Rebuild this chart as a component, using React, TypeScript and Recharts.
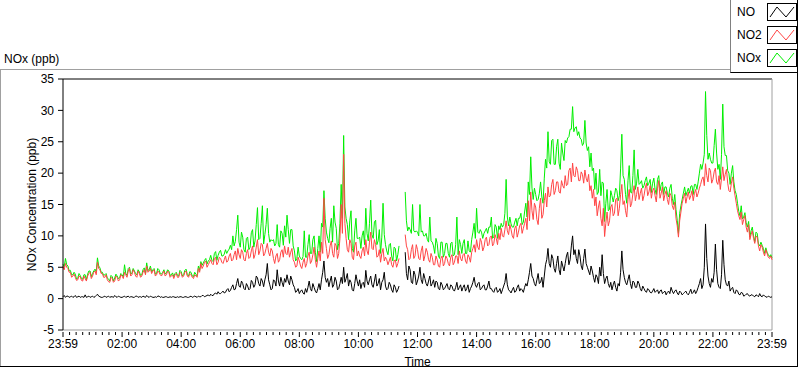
import { Line, LineChart, ReferenceLine, XAxis, YAxis } from "recharts";

// Samples: one set on the 5-minute marks from 23:59,
// one set half way between them (2.5 minutes later).
const STEP_MIN = 5;

const no = [
  0.3, 0.2, 0.4, 0.3, 0.2, 0.5, 0.3, 0.2, 0.3, 0.6, 0.3, 0.2,
  0.4, 0.3, 0.7, 0.3, 0.2, 0.4, 0.3, 0.2, 0.3, 0.5, 0.2, 0.3,
  0.2, 0.4, 0.3, 0.2, 0.3, 0.2, 0.4, 0.3, 0.2, 0.3, 0.5, 0.2,
  0.3, 0.2, 0.2, 0.4, 0.3, 0.2, 0.3, 0.2, 0.2, 0.3, 0.2, 0.2,
  0.3, 0.2, 0.3, 0.2, 0.4, 0.3, 0.3, 0.4, 0.3, 0.5, 0.4, 0.6,
  0.7, 0.5, 0.9, 1.1, 0.8, 1.2, 1.0, 1.6, 1.3, 2.2, 1.5, 3.2,
  1.8, 2.4, 1.4, 2.0, 1.6, 2.6, 2.2, 3.3, 2.0, 2.8, 3.0, 5.6,
  2.2, 1.6, 2.8, 4.6, 2.0, 2.6, 3.2, 3.8, 2.2, 3.0, 1.8, 1.2,
  0.8, 1.4, 0.7, 1.0, 2.8, 1.2, 1.8, 0.9, 2.4, 3.0, 6.0, 2.6,
  1.9, 3.6, 2.2, 2.8, 1.6, 3.4, 5.0, 3.2, 2.0, 2.6, 1.2, 3.8,
  2.0, 1.6, 2.6, 4.5, 2.2, 3.6, 1.8, 3.9, 2.4, 1.4, 3.0, 2.0,
  1.6, 2.2, 1.0, 1.8, 1.4, null, null, 7.4, 3.0, 4.6, 2.4, 3.8,
  2.8, 5.0, 2.4, 3.2, 2.0, 3.6, 2.4, 1.8, 2.6, 1.4, 2.2, 1.6,
  2.4, 1.4, 2.0, 1.2, 2.6, 1.8, 1.2, 2.2, 1.6, 1.0, 2.0, 3.4,
  1.8, 2.6, 1.6, 2.2, 1.4, 2.8, 1.6, 1.0, 1.8, 1.2, 0.8, 2.0,
  4.0, 1.4, 0.9, 1.8, 1.2, 2.2, 1.6, 1.0, 2.4, 3.0, 5.6, 3.2,
  2.0, 4.0, 2.6, 1.8, 5.4, 8.0, 5.0, 6.4, 4.2, 6.8, 3.8, 5.2,
  5.6, 7.4, 6.2, 10.0, 7.8, 5.6, 6.8, 4.6, 7.9, 5.0, 3.8, 4.4,
  2.6, 3.4, 5.0, 7.0, 2.4, 3.6, 1.8, 1.4, 2.8, 1.2, 2.0, 7.6,
  3.4, 2.2, 3.8, 1.6, 2.6, 1.8, 2.4, 1.2, 1.6, 1.0, 1.4, 0.9,
  1.6, 1.2, 0.8, 1.4, 1.0, 0.6, 1.2, 1.8, 0.8, 1.4, 0.6, 1.0,
  0.8, 1.2, 0.6, 1.5, 1.0, 0.8, 1.8, 3.2, 2.2, 11.9, 3.6, 1.8,
  2.6, 8.7, 2.4, 1.6, 9.3, 3.0, 2.0, 1.2, 1.8, 0.8, 1.2, 0.6,
  0.9, 0.5, 0.8, 0.4, 0.6, 0.3, 0.5, 0.8, 0.3, 0.4, 0.2, 0.3,
  0.3,
];

const noMid = [
  0.5, 0.4, 0.2, 0.4, 0.3, 0.2, 0.4, 0.3, 0.2, 0.2, 0.4, 0.3,
  0.2, 0.5, 0.4, 0.2, 0.3, 0.2, 0.4, 0.3, 0.2, 0.3, 0.4, 0.2,
  0.3, 0.2, 0.4, 0.3, 0.2, 0.4, 0.2, 0.3, 0.4, 0.2, 0.3, 0.4,
  0.2, 0.3, 0.4, 0.2, 0.2, 0.3, 0.2, 0.3, 0.3, 0.2, 0.3, 0.3,
  0.2, 0.3, 0.2, 0.3, 0.2, 0.4, 0.2, 0.3, 0.5, 0.3, 0.5, 0.4,
  0.5, 0.8, 0.7, 0.8, 1.0, 0.9, 1.4, 1.1, 1.8, 1.4, 2.4, 2.0,
  2.8, 1.6, 2.4, 1.4, 2.9, 1.8, 3.6, 2.4, 3.2, 1.9, 3.8, 3.0,
  1.4, 3.0, 2.0, 2.8, 3.4, 1.9, 2.6, 2.8, 3.6, 2.2, 1.0, 1.6,
  1.2, 0.9, 1.6, 1.8, 1.6, 2.4, 1.2, 1.6, 1.4, 4.2, 3.4, 3.2,
  2.8, 1.8, 3.4, 1.4, 2.4, 2.4, 2.6, 4.0, 3.0, 1.4, 2.4, 2.8,
  3.0, 2.4, 1.8, 2.8, 3.0, 2.2, 2.8, 2.0, 3.2, 2.6, 4.2, 1.4,
  2.6, 1.4, 2.2, 1.0, 2.0, null, null, 4.0, 5.2, 2.6, 4.4, 2.2,
  3.6, 3.0, 4.0, 2.4, 2.8, 2.0, 3.0, 2.8, 1.6, 2.6, 1.4, 2.0,
  1.6, 2.2, 1.4, 1.8, 1.4, 2.2, 1.8, 1.2, 2.2, 1.6, 2.6, 2.2,
  2.4, 1.4, 2.0, 1.4, 2.0, 1.6, 1.2, 1.6, 1.0, 1.6, 1.4, 2.6,
  2.2, 1.2, 1.4, 1.0, 1.8, 1.2, 1.4, 1.8, 2.0, 4.2, 3.6, 2.4,
  3.0, 2.4, 3.4, 3.6, 6.2, 5.6, 7.0, 4.8, 5.6, 4.6, 6.0, 4.4,
  6.8, 5.4, 8.4, 7.0, 6.4, 7.8, 5.2, 6.4, 5.6, 4.4, 5.2, 3.4,
  3.8, 2.4, 3.6, 4.0, 3.2, 2.4, 2.6, 2.2, 1.8, 2.4, 4.2, 4.6,
  2.6, 3.0, 2.4, 2.8, 1.8, 2.8, 1.6, 2.0, 1.2, 1.6, 1.0, 1.2,
  1.0, 1.4, 1.2, 0.8, 1.2, 1.0, 0.8, 1.2, 1.2, 0.9, 1.2, 0.6,
  1.0, 0.8, 1.0, 0.8, 1.4, 1.2, 2.4, 1.6, 5.0, 6.4, 2.4, 3.2,
  4.2, 4.6, 1.8, 3.8, 5.4, 2.2, 2.8, 1.6, 1.0, 1.4, 0.7, 1.0,
  0.4, 0.7, 0.5, 0.6, 0.4, 0.6, 0.3, 0.4, 0.6, 0.3, 0.4, 0.2,
];

const no2 = [
  5.2, 5.6, 4.8, 4.2, 3.6, 3.4, 3.0, 3.5, 2.8, 3.2, 3.6, 4.2,
  3.6, 4.4, 5.8, 4.6, 4.0, 3.4, 3.0, 2.6, 3.2, 2.8, 3.4, 3.0,
  3.6, 4.2, 3.4, 4.8, 3.8, 4.2, 3.4, 4.0, 3.6, 4.6, 5.2, 4.4,
  4.0, 4.6, 3.8, 4.2, 3.6, 4.4, 3.8, 4.2, 3.6, 3.2, 4.0, 3.4,
  4.0, 3.6, 4.4, 3.4, 3.8, 3.2, 3.6, 4.8, 5.6, 5.2, 6.0, 5.4,
  6.2, 5.4, 6.6, 5.8, 6.4, 5.6, 6.8, 6.0, 7.2, 6.2, 7.6, 8.0,
  6.4, 7.4, 6.0, 7.8, 6.6, 8.4, 7.0, 9.4, 7.6, 8.6, 7.2, 8.8,
  6.8, 7.6, 5.6, 7.2, 6.2, 7.8, 8.4, 7.0, 6.6, 8.0, 5.8, 5.2,
  6.0, 4.8, 6.4, 5.6, 7.4, 6.0, 8.2, 5.0, 7.6, 9.0, 16.0, 8.0,
  7.0, 9.2, 6.6, 8.4, 7.2, 15.0, 23.0, 9.6, 7.4, 8.8, 6.2, 9.0,
  7.6, 6.4, 8.2, 9.4, 7.0, 10.6, 7.8, 8.6, 6.8, 5.8, 8.0, 6.6,
  5.4, 6.6, 5.0, 6.2, 5.6, null, null, 10.2, 7.8, 6.4, 8.6, 6.8,
  7.8, 6.2, 8.4, 6.8, 7.4, 5.8, 6.6, 5.4, 6.2, 5.0, 6.8, 5.6,
  6.4, 5.2, 7.0, 5.8, 6.8, 7.6, 6.0, 7.2, 5.6, 6.6, 7.4, 8.6,
  9.4, 7.8, 9.0, 8.2, 9.8, 8.6, 10.0, 8.8, 9.6, 10.4, 11.2, 9.8,
  12.4, 10.2, 11.0, 9.6, 11.6, 10.6, 12.0, 11.2, 12.8, 15.6, 17.0, 12.6,
  14.6, 11.8, 16.0, 13.4, 16.8, 17.8, 16.4, 19.0, 17.2, 18.6, 16.8, 18.0,
  19.6, 18.2, 20.8, 21.6, 19.4, 20.4, 18.8, 19.8, 20.5, 18.6, 17.2, 16.0,
  14.8, 13.2, 15.6, 11.6, 9.9, 13.8, 12.4, 15.0, 13.6, 16.0, 14.4, 18.2,
  15.6, 13.0, 17.4, 15.2, 18.0, 16.6, 15.8, 17.6, 16.4, 18.4, 17.0, 16.0,
  17.6, 15.4, 18.8, 16.8, 15.6, 17.2, 15.0, 16.4, 14.2, 12.8, 9.8, 13.8,
  16.0, 15.2, 17.0, 16.4, 15.6, 17.4, 16.8, 18.2, 19.4, 21.5, 18.6, 20.4,
  19.0, 20.8, 18.2, 17.4, 21.0, 19.8, 18.4, 17.0, 19.4, 16.4, 14.0, 12.6,
  11.8, 13.2, 10.6, 9.4, 10.8, 8.8, 9.8, 7.6, 8.2, 6.8, 7.2, 6.4,
  6.2,
];

const no2Mid = [
  4.6, 5.0, 4.2, 3.4, 3.9, 2.9, 3.6, 2.9, 3.6, 2.8, 4.0, 3.2,
  4.2, 3.8, 4.8, 4.0, 3.4, 3.8, 2.7, 3.4, 2.6, 3.6, 2.8, 3.8,
  3.2, 3.8, 4.4, 3.6, 4.6, 3.6, 4.4, 3.4, 4.2, 3.8, 4.2, 4.8,
  4.4, 3.6, 4.4, 3.8, 4.0, 3.6, 4.4, 3.4, 3.8, 3.8, 3.4, 4.2,
  3.4, 4.2, 3.6, 4.0, 3.4, 3.8, 3.4, 4.2, 4.8, 5.8, 5.0, 5.8,
  5.6, 6.4, 5.4, 6.6, 5.8, 6.2, 5.8, 6.8, 6.0, 7.0, 6.2, 7.0,
  7.8, 6.2, 7.2, 6.4, 7.6, 6.4, 8.2, 7.0, 8.8, 6.8, 8.0, 7.4,
  8.0, 6.4, 6.8, 5.8, 7.4, 6.6, 7.2, 8.2, 7.4, 6.2, 5.0, 6.6,
  5.2, 5.8, 5.0, 6.8, 5.6, 7.0, 6.2, 6.4, 6.0, 7.2, 9.4, 6.4,
  8.4, 7.2, 8.8, 6.4, 9.6, 10.4, 12.0, 7.8, 9.4, 6.6, 8.4, 6.8,
  6.8, 7.6, 6.8, 7.6, 9.0, 8.0, 9.4, 6.6, 7.8, 7.2, 6.0, 6.2,
  6.0, 5.4, 6.0, 5.0, 6.4, null, null, 8.4, 6.2, 7.8, 6.4, 8.6,
  6.4, 7.6, 6.0, 8.0, 6.2, 7.2, 5.4, 6.8, 5.2, 6.4, 5.2, 6.8,
  5.6, 6.6, 5.4, 6.8, 5.6, 6.4, 7.0, 6.0, 7.0, 5.8, 8.0, 7.4,
  8.2, 9.6, 7.6, 9.4, 8.4, 9.8, 8.4, 10.2, 8.6, 9.4, 10.0, 11.0,
  10.8, 11.8, 10.0, 11.2, 9.8, 11.6, 10.4, 12.0, 11.0, 12.4, 14.0, 15.2,
  12.6, 14.4, 12.8, 15.6, 14.6, 16.2, 18.2, 16.6, 18.6, 17.0, 18.8, 17.6,
  18.0, 20.4, 18.6, 19.6, 21.0, 18.8, 20.2, 18.4, 19.2, 19.8, 18.0, 17.4,
  16.2, 14.6, 12.8, 14.4, 12.0, 11.6, 14.6, 13.2, 15.8, 13.2, 16.6, 15.0,
  14.0, 15.8, 14.6, 16.8, 15.6, 17.8, 16.8, 15.6, 17.6, 16.4, 18.0, 17.2,
  16.4, 17.6, 16.0, 17.8, 16.6, 15.8, 16.8, 14.8, 15.4, 11.6, 12.4, 15.2,
  16.8, 16.2, 15.8, 17.2, 16.8, 16.2, 17.6, 19.0, 18.0, 19.6, 20.8, 18.4,
  20.2, 18.6, 19.6, 19.2, 18.8, 20.6, 17.2, 18.4, 17.6, 15.2, 13.2, 13.8,
  12.6, 11.4, 11.8, 10.2, 9.6, 10.0, 8.4, 8.6, 7.4, 7.8, 6.6, 6.8,
];

const nox = [
  5.5, 6.4, 5.2, 4.5, 3.8, 3.9, 3.3, 3.7, 3.1, 3.8, 3.9, 4.4,
  4.0, 4.7, 6.5, 4.9, 4.2, 3.8, 3.3, 2.8, 3.5, 3.3, 3.6, 3.3,
  3.8, 5.4, 3.7, 5.0, 4.1, 4.4, 3.8, 4.3, 3.8, 4.9, 5.7, 4.6,
  4.3, 4.8, 4.0, 4.6, 3.9, 4.6, 4.1, 4.4, 3.8, 3.5, 4.2, 3.6,
  4.3, 3.8, 4.7, 3.6, 4.2, 3.5, 3.9, 5.2, 5.9, 5.7, 6.4, 6.0,
  6.9, 5.9, 7.5, 6.9, 7.7, 6.8, 7.8, 7.6, 8.5, 10.0, 9.1, 13.3,
  8.2, 9.8, 7.4, 9.8, 8.2, 11.0, 9.2, 14.5, 9.6, 14.8, 10.2, 14.4,
  9.0, 9.2, 8.4, 11.8, 8.2, 10.4, 11.6, 13.3, 8.8, 11.0, 7.6, 6.4,
  6.8, 6.2, 10.8, 6.6, 10.2, 7.2, 10.0, 5.9, 10.0, 12.0, 17.2, 10.6,
  8.9, 12.8, 14.8, 11.2, 8.8, 18.2, 26.0, 12.8, 9.4, 14.0, 7.4, 12.8,
  9.6, 8.0, 10.8, 14.4, 9.2, 15.7, 9.6, 12.5, 9.2, 7.2, 15.2, 8.6,
  7.0, 8.8, 6.0, 8.0, 7.0, null, null, 17.0, 10.8, 11.0, 15.0, 10.6,
  10.6, 15.0, 10.8, 10.0, 9.4, 13.0, 9.0, 7.2, 8.8, 6.4, 9.0, 7.2,
  8.8, 6.6, 9.0, 7.0, 13.0, 9.4, 7.2, 9.4, 7.2, 7.6, 9.4, 12.0,
  14.4, 10.4, 10.6, 10.4, 11.2, 11.4, 13.0, 9.8, 11.4, 11.6, 12.0, 11.8,
  19.0, 11.6, 11.9, 11.4, 12.8, 12.8, 13.6, 12.2, 15.2, 18.6, 22.6, 15.8,
  16.6, 15.8, 18.6, 15.2, 22.2, 26.6, 21.4, 25.4, 21.4, 25.4, 20.6, 23.2,
  25.2, 25.6, 27.0, 30.6, 27.2, 26.0, 25.6, 24.4, 28.4, 23.6, 21.0, 20.4,
  17.4, 16.6, 20.6, 18.6, 12.3, 17.4, 14.2, 16.4, 16.4, 17.2, 16.4, 26.2,
  19.0, 15.2, 21.2, 16.8, 23.7, 18.4, 18.2, 18.8, 18.0, 19.4, 18.4, 16.9,
  19.2, 16.6, 19.6, 18.2, 16.6, 17.8, 16.2, 18.2, 15.0, 14.2, 10.4, 14.8,
  16.8, 16.4, 17.6, 17.9, 16.6, 18.2, 18.6, 21.4, 21.6, 33.0, 22.2, 22.2,
  21.6, 27.0, 20.6, 19.0, 31.0, 22.8, 20.4, 18.2, 21.2, 17.2, 15.2, 13.2,
  12.7, 13.7, 11.4, 9.8, 11.4, 9.1, 10.4, 8.4, 8.5, 7.2, 7.4, 6.7,
  6.5,
];

const noxMid = [
  5.1, 5.4, 4.4, 3.8, 4.2, 3.1, 4.0, 3.2, 3.8, 3.0, 4.4, 3.5,
  4.4, 4.3, 5.2, 4.2, 3.7, 4.0, 3.1, 3.7, 2.8, 3.9, 3.2, 4.0,
  3.5, 4.0, 4.8, 3.9, 4.8, 4.0, 4.6, 3.7, 4.6, 4.0, 4.5, 5.2,
  4.6, 3.9, 4.8, 4.0, 4.2, 3.9, 4.6, 3.7, 4.1, 4.0, 3.7, 4.5,
  3.6, 4.5, 3.8, 4.3, 3.6, 4.2, 3.6, 4.5, 5.3, 6.1, 5.5, 6.2,
  6.1, 7.2, 6.1, 7.4, 6.8, 7.1, 7.2, 7.9, 7.8, 8.4, 11.0, 9.0,
  10.6, 7.8, 9.6, 7.8, 10.5, 8.2, 11.8, 9.4, 12.0, 8.7, 11.8, 10.4,
  9.4, 9.4, 8.8, 8.6, 10.8, 8.5, 9.8, 11.0, 11.0, 8.4, 6.0, 8.2,
  6.4, 6.7, 6.6, 8.6, 7.2, 9.4, 7.4, 8.0, 7.4, 11.4, 12.8, 9.6,
  11.2, 9.0, 12.2, 7.8, 12.0, 12.8, 14.6, 11.8, 12.4, 8.0, 10.8, 9.6,
  9.8, 10.0, 8.6, 10.4, 12.0, 10.2, 12.2, 8.6, 11.0, 9.8, 10.2, 7.6,
  8.6, 6.8, 8.2, 6.0, 8.4, null, null, 12.4, 11.4, 10.4, 10.8, 10.8,
  10.0, 10.6, 10.0, 10.4, 9.0, 9.2, 8.4, 9.6, 6.8, 9.0, 6.6, 8.8,
  7.2, 8.8, 6.8, 8.6, 7.0, 8.6, 8.8, 7.2, 9.2, 7.4, 10.6, 9.6,
  10.6, 11.0, 9.6, 10.8, 10.4, 11.4, 9.6, 11.8, 9.6, 11.0, 11.4, 13.6,
  13.0, 13.0, 11.4, 12.2, 11.6, 12.8, 11.8, 13.8, 13.0, 16.6, 17.6, 17.6,
  15.6, 16.8, 16.2, 19.2, 20.8, 21.8, 25.2, 21.4, 24.2, 21.6, 24.8, 22.0,
  24.8, 25.8, 27.0, 26.6, 27.4, 26.6, 25.4, 24.8, 24.8, 24.2, 23.2, 20.8,
  20.0, 17.0, 16.4, 18.4, 15.2, 14.0, 17.2, 15.4, 17.6, 15.6, 20.8, 19.6,
  16.6, 18.8, 17.0, 19.6, 17.4, 20.6, 18.4, 17.6, 18.8, 18.0, 19.0, 18.4,
  17.4, 19.0, 17.2, 18.6, 17.8, 16.8, 17.6, 16.0, 16.6, 12.5, 13.6, 15.8,
  17.8, 17.0, 16.8, 18.0, 18.2, 17.4, 20.0, 20.6, 23.0, 26.0, 23.2, 21.6,
  24.4, 23.2, 21.4, 23.0, 24.2, 22.8, 20.0, 20.0, 18.6, 16.6, 13.9, 14.8,
  13.0, 12.1, 12.3, 10.8, 10.0, 10.6, 8.7, 9.0, 8.0, 8.1, 7.0, 7.0,
];

const timeLabels = [
  "23:59", "02:00", "04:00", "06:00", "08:00", "10:00", "12:00",
  "14:00", "16:00", "18:00", "20:00", "22:00", "23:59",
];
const yTicks = [-5, 0, 5, 10, 15, 20, 25, 30, 35];

const series = [
  { key: "NOx", color: "#00ee00" },
  { key: "NO2", color: "#ff4545" },
  { key: "NO", color: "#000000" },
];
const legendOrder = ["NO", "NO2", "NOx"];

const SPAN = 1440;
const MINOR_PER_MAJOR = 9;
const MINOR_STEP = SPAN / ((timeLabels.length - 1) * MINOR_PER_MAJOR);
const xTicks: number[] = [];
for (let k = 0; k <= (timeLabels.length - 1) * MINOR_PER_MAJOR; k++) {
  xTicks.push(k * MINOR_STEP);
}

const data: { minute: number; NO: number | null; NO2: number | null; NOx: number | null }[] = [];
no.forEach((v, i) => {
  data.push({ minute: i * STEP_MIN, NO: v, NO2: no2[i], NOx: nox[i] });
  if (i < noMid.length) {
    data.push({ minute: i * STEP_MIN + STEP_MIN / 2, NO: noMid[i], NO2: no2Mid[i], NOx: noxMid[i] });
  }
});

const FONT = "'Liberation Sans', Arial, sans-serif";

function TimeTick(props: any) {
  const { x, y, payload } = props;
  const k = Math.round(payload.value / MINOR_STEP);
  const major = k % MINOR_PER_MAJOR === 0;
  return (
    <g>
      <line x1={x} x2={x} y1={y + 2} y2={y + (major ? 7 : 5)} stroke="#000" />
      {major && (
        <text x={x} y={y + 18} textAnchor="middle" fontSize={12} fontFamily={FONT} fill="#000">
          {timeLabels[k / MINOR_PER_MAJOR]}
        </text>
      )}
    </g>
  );
}

function Swatch({ color }: { color: string }) {
  return (
    <svg width={30} height={18} style={{ display: "block" }}>
      <rect x={0.5} y={0.5} width={29} height={17} fill="#fff" stroke="#000" />
      <polyline points="3,14 10,4 19,14 27,4" fill="none" stroke={color} strokeWidth={1} />
    </svg>
  );
}

export default function App() {
  return (
    <div
      style={{
        position: "absolute",
        left: 0,
        top: 0,
        width: 800,
        height: 369,
        overflow: "hidden",
        background: "#fff",
        fontFamily: FONT,
      }}
    >
      {/* panel frame */}
      <div style={{ position: "absolute", left: 0, top: 69, width: 730, height: 1, background: "#a0a0a0" }} />
      <div style={{ position: "absolute", left: 0, top: 69, width: 1, height: 298, background: "#a0a0a0" }} />
      <div style={{ position: "absolute", left: 0, top: 366, width: 798, height: 1, background: "#000" }} />
      <div style={{ position: "absolute", left: 797, top: 72, width: 1, height: 295, background: "#000" }} />

      <div style={{ position: "absolute", left: 4, top: 52, fontSize: 12, lineHeight: "14px", color: "#000" }}>
        NOx (ppb)
      </div>

      {/* legend */}
      <div
        style={{
          position: "absolute",
          left: 730,
          top: 0,
          width: 68,
          height: 73,
          borderLeft: "1px solid #808080",
          borderRight: "1px solid #000",
          borderBottom: "1px solid #000",
          background: "#fff",
          boxSizing: "border-box",
        }}
      >
        {legendOrder.map((name, i) => {
          const s = series.find((d) => d.key === name)!;
          return (
            <div key={name} style={{ position: "absolute", left: 6, top: 3 + i * 23, width: 60, height: 18 }}>
              <span style={{ position: "absolute", left: 0, top: 2, fontSize: 12, lineHeight: "14px", color: "#000" }}>
                {name}
              </span>
              <div style={{ position: "absolute", left: 30, top: 0 }}>
                <Swatch color={s.color} />
              </div>
            </div>
          );
        })}
      </div>

      <div style={{ position: "absolute", left: 0, top: 0 }}>
        <LineChart width={800} height={369} data={data} margin={{ top: 79, right: 28, bottom: 0, left: 0 }}>
          <XAxis
            dataKey="minute"
            type="number"
            domain={[0, SPAN]}
            ticks={xTicks}
            interval={0}
            tick={<TimeTick />}
            tickLine={false}
            tickSize={0}
            tickMargin={0}
            axisLine={{ stroke: "#a0a0a0" }}
            height={39}
            label={{ value: "Time", position: "insideBottom", offset: 3, fontSize: 12, fill: "#000", fontFamily: FONT }}
          />
          <YAxis
            domain={[-5, 35]}
            ticks={yTicks}
            interval={0}
            width={63}
            tickSize={5}
            tickMargin={4}
            tick={{ fontSize: 12, fill: "#000", fontFamily: FONT }}
            tickLine={{ stroke: "#000" }}
            axisLine={{ stroke: "#000" }}
            allowDataOverflow
            label={{
              value: "NOx Concentration (ppb)",
              angle: -90,
              position: "center",
              fontSize: 12,
              fill: "#000",
              fontFamily: FONT,
            }}
          />
          <ReferenceLine y={35} stroke="#000" ifOverflow="extendDomain" />
          <ReferenceLine x={SPAN} stroke="#a0a0a0" />
          {series.map((s) => (
            <Line
              key={s.key}
              dataKey={s.key}
              type="linear"
              stroke={s.color}
              strokeWidth={1}
              dot={false}
              activeDot={false}
              isAnimationActive={false}
            />
          ))}
        </LineChart>
      </div>
    </div>
  );
}
